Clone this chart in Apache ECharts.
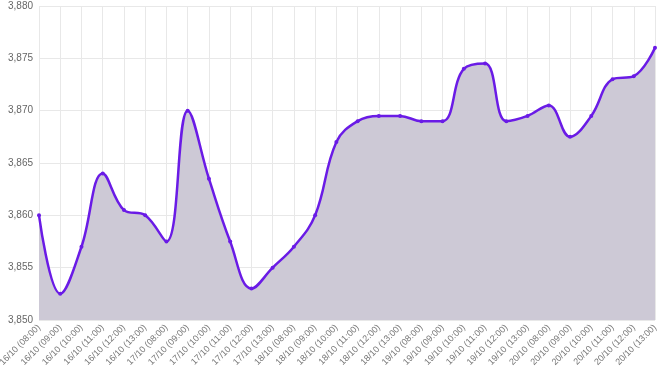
<!DOCTYPE html>
<html>
<head>
<meta charset="utf-8">
<script src="https://cdn.jsdelivr.net/npm/echarts@6/dist/echarts.min.js"></script>
<style>
  html, body { margin: 0; padding: 0; background: #fff; }
  #chart { width: 661px; height: 376px; }
</style>
</head>
<body>
<div id="chart"></div>
<script>
var categories = [
  "16/10 (08:00)", "16/10 (09:00)", "16/10 (10:00)", "16/10 (11:00)", "16/10 (12:00)", "16/10 (13:00)",
  "17/10 (08:00)", "17/10 (09:00)", "17/10 (10:00)", "17/10 (11:00)", "17/10 (12:00)", "17/10 (13:00)",
  "18/10 (08:00)", "18/10 (09:00)", "18/10 (10:00)", "18/10 (11:00)", "18/10 (12:00)", "18/10 (13:00)",
  "19/10 (08:00)", "19/10 (09:00)", "19/10 (10:00)", "19/10 (11:00)", "19/10 (12:00)", "19/10 (13:00)",
  "20/10 (08:00)", "20/10 (09:00)", "20/10 (10:00)", "20/10 (11:00)", "20/10 (12:00)", "20/10 (13:00)"
];
var values = [
  3860, 3852.5, 3857, 3864, 3860.5, 3860,
  3857.5, 3870, 3863.5, 3857.5, 3853, 3855,
  3857, 3860, 3867, 3869, 3869.5, 3869.5,
  3869, 3869, 3874, 3874.5, 3869, 3869.5,
  3870.5, 3867.5, 3869.5, 3873, 3873.3, 3876
];
var yMin = 3850, yMax = 3880, yStep = 5;

var chart = echarts.init(document.getElementById("chart"));
chart.setOption({
  animation: false,
  grid: { left: 39, right: 6, top: 6, bottom: 56, outerBoundsMode: "none", containLabel: false },
  xAxis: {
    type: "category",
    data: categories,
    boundaryGap: false,
    axisLine: { show: false },
    axisTick: { show: false },
    splitLine: { show: true, lineStyle: { color: "#e8e8e8" } },
    axisLabel: {
      rotate: 45,
      interval: 0,
      fontFamily: "Liberation Sans",
      fontSize: 9,
      color: "#777",
      margin: 6
    }
  },
  yAxis: {
    type: "value",
    min: yMin,
    max: yMax,
    interval: yStep,
    axisLine: { show: false },
    axisTick: { show: false },
    splitLine: { lineStyle: { color: "#e8e8e8" } },
    axisLabel: {
      fontFamily: "Liberation Sans",
      fontSize: 10,
      color: "#666",
      margin: 6,
      formatter: function (v) { return v.toLocaleString("en-US"); }
    }
  },
  series: [
    {
      type: "line",
      data: values,
      smooth: 0.4,
      symbol: "circle",
      symbolSize: 4,
      itemStyle: { color: "#6a1be6" },
      lineStyle: { color: "#6a1be6", width: 2.5 },
      areaStyle: { color: "#cdc9d6", opacity: 1 }
    }
  ]
});
</script>
</body>
</html>
